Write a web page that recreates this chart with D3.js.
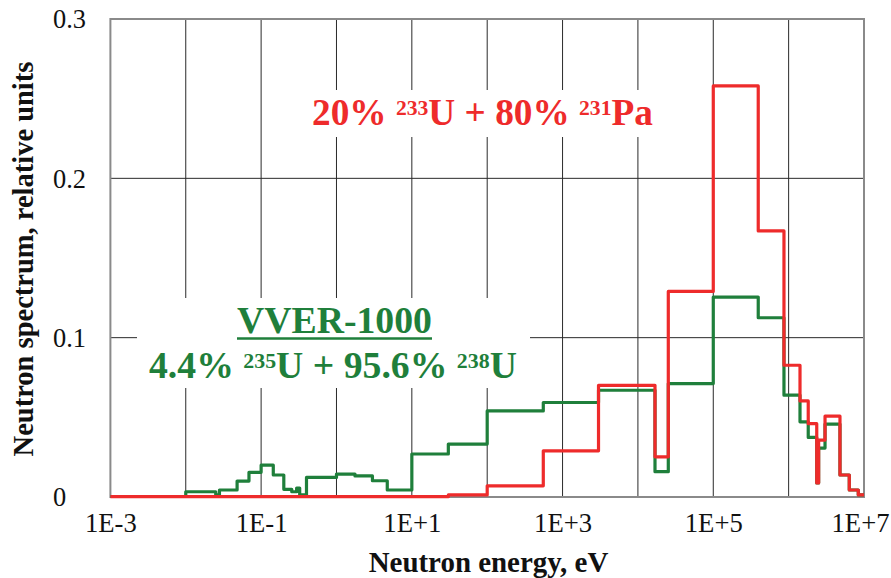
<!DOCTYPE html>
<html><head><meta charset="utf-8">
<script src="https://cdn.jsdelivr.net/npm/d3@7"></script>
<style>
html,body{margin:0;padding:0;background:#fff;}
svg{display:block;}
</style>
</head><body>
<svg id="chart" width="891" height="578"></svg>
<script>
// ---- data ----
const xTickValues = [1e-3, 1e-1, 1e1, 1e3, 1e5, 1e7];
const xTickLabels = ["1E-3", "1E-1", "1E+1", "1E+3", "1E+5", "1E+7"];
const xGridValues = [1e-2, 1e-1, 1, 1e1, 1e2, 1e3, 1e4, 1e5, 1e6];
const yTickValues = [0, 0.1, 0.2, 0.3];
const yTickLabels = ["0", "0.1", "0.2", "0.3"];

// VVER-1000 (green) group lower edges (eV) and group values
const vverEdges = [1e-3, 0.01, 0.025, 0.028, 0.048, 0.069, 0.1, 0.145, 0.2, 0.255, 0.296, 0.325, 0.4, 1.0, 1.76, 3.0, 4.72, 10, 30.5, 100, 555, 3000, 16850, 25300, 1e5, 3.95e5, 8.67e5, 1.415e6, 1.82e6, 2.36e6, 2.5e6, 3.04e6, 4.8e6, 6.38e6, 8.4e6, 1e7];
const vverValues = [0.0003, 0.0033, 0.0013, 0.0044, 0.010, 0.0155, 0.020, 0.0138, 0.0048, 0.0033, 0.0056, 0.0013, 0.0123, 0.0144, 0.0132, 0.0102, 0.0044, 0.027, 0.0332, 0.054, 0.0593, 0.067, 0.0159, 0.0712, 0.1255, 0.1125, 0.0639, 0.0472, 0.0374, 0.0088, 0.0307, 0.0457, 0.0138, 0.0044, 0.0013];

// 20% U-233 + 80% Pa-231 (red)
const paEdges = [1e-3, 30.5, 100, 555, 3000, 16850, 25300, 1e5, 3.95e5, 8.67e5, 1.415e6, 1.82e6, 2.36e6, 2.5e6, 3.04e6, 4.8e6, 6.38e6, 8.4e6, 1e7];
const paValues = [0.0002, 0.0013, 0.007, 0.029, 0.0701, 0.0252, 0.129, 0.258, 0.167, 0.0827, 0.0603, 0.046, 0.0088, 0.0357, 0.0507, 0.0138, 0.0044, 0.0013];

const RED = "#ee2b2b", GREEN = "#1f7f3b";
const FONT = "'Liberation Serif','DejaVu Serif','Times New Roman',serif";

// ---- layout ----
const svg = d3.select("#chart");
const L = 110.4, R = 864, T = 19, B = 497;
const x = d3.scaleLog().domain([1e-3, 1e7]).range([L, R]);
const y = d3.scaleLinear().domain([0, 0.3]).range([B, T]);

function fitSize(sel, base, target) {
  const w = sel.node().getBBox().width;
  return w > 0 ? base * target / w : base;
}

// grid
svg.append("g").selectAll("line.v").data(xGridValues).join("line")
  .attr("x1", d => x(d)).attr("x2", d => x(d)).attr("y1", T).attr("y2", B)
  .attr("stroke", "#2a2a2a").attr("stroke-width", 1);
svg.append("g").selectAll("line.h").data([0.1, 0.2]).join("line")
  .attr("x1", L).attr("x2", R).attr("y1", d => y(d)).attr("y2", d => y(d))
  .attr("stroke", "#2a2a2a").attr("stroke-width", 1);

// frame
svg.append("rect").attr("x", L).attr("y", T).attr("width", R - L).attr("height", B - T)
  .attr("fill", "none").attr("stroke", "#8a8a8a").attr("stroke-width", 2);

// annotation backgrounds
svg.append("rect").attr("x", 300).attr("y", 90).attr("width", 365).attr("height", 47).attr("fill", "#fff");
svg.append("rect").attr("x", 137).attr("y", 298).attr("width", 393).attr("height", 90).attr("fill", "#fff");

// axes
const xAxis = svg.append("g").attr("transform", `translate(0,${B})`)
  .call(d3.axisBottom(x).tickValues(xTickValues).tickFormat((d, i) => xTickLabels[i]).tickSize(0).tickPadding(0));
xAxis.select(".domain").remove();
const xt = xAxis.selectAll("text").attr("y", 35).attr("dy", 0)
  .attr("font-family", FONT).attr("font-size", 26).attr("fill", "#111");
const xs = fitSize(xAxis.selectAll("text").filter((d, i) => i === 2), 26, 58);
xt.attr("font-size", xs);
// keep the last label inside the canvas
xAxis.selectAll("text").filter((d, i, n) => i === n.length - 1).attr("x", -4);

const yAxis = svg.append("g")
  .call(d3.axisLeft(y).tickValues(yTickValues).tickFormat((d, i) => yTickLabels[i]).tickSize(0));
yAxis.select(".domain").remove();
const yt = yAxis.selectAll("text").attr("x", 53).attr("dy", "0.33em").attr("text-anchor", "start")
  .attr("font-family", FONT).attr("font-size", 26).attr("fill", "#111");
const ys = fitSize(yAxis.selectAll("text").filter((d, i) => i === 2), 26, 33);
yt.attr("font-size", ys);

// step lines
function stepPts(edges, vals) {
  const pts = vals.map((v, i) => [edges[i], v]);
  pts.push([edges[edges.length - 1], vals[vals.length - 1]]);
  return pts;
}
const line = d3.line().x(d => x(d[0])).y(d => y(d[1])).curve(d3.curveStepAfter);
svg.append("path").attr("d", line(stepPts(vverEdges, vverValues)))
  .attr("fill", "none").attr("stroke", GREEN).attr("stroke-width", 3.2).attr("stroke-linejoin", "round");
svg.append("path").attr("d", line(stepPts(paEdges, paValues)))
  .attr("fill", "none").attr("stroke", RED).attr("stroke-width", 3.2).attr("stroke-linejoin", "round");

// labels with superscripts
function richText(parts, xPos, yPos, color, size, target) {
  const t = svg.append("text").attr("x", xPos).attr("y", yPos)
    .attr("font-family", FONT).attr("font-weight", "bold").attr("fill", color)
    .style("white-space", "pre");
  const spans = parts.map(p => t.append("tspan").text(p.t).datum(p));
  function apply(s) {
    t.attr("font-size", s);
    let raised = false;
    spans.forEach(sp => {
      const p = sp.datum();
      sp.attr("dy", null);
      if (p.sup) {
        sp.attr("font-size", s * 0.58);
        if (!raised) { sp.attr("dy", -s * 0.27); raised = true; }
      } else {
        sp.attr("font-size", s);
        if (raised) { sp.attr("dy", s * 0.27); raised = false; }
      }
    });
  }
  apply(size);
  const s2 = fitSize(t, size, target);
  apply(s2);
  return t;
}
richText([{t: "20% "}, {t: "233", sup: true}, {t: "U + 80% "}, {t: "231", sup: true}, {t: "Pa"}], 312, 125, RED, 38, 341);

const vv = svg.append("text").attr("x", 334.5).attr("y", 333).attr("text-anchor", "middle")
  .attr("font-family", FONT).attr("font-weight", "bold")
  .attr("font-size", 38).attr("fill", GREEN).text("VVER-1000");
vv.attr("font-size", fitSize(vv, 38, 195));
svg.append("line").attr("x1", 237).attr("x2", 432).attr("y1", 338.5).attr("y2", 338.5)
  .attr("stroke", GREEN).attr("stroke-width", 2.6);
richText([{t: "4.4% "}, {t: "235", sup: true}, {t: "U + 95.6% "}, {t: "238", sup: true}, {t: "U"}], 149, 378, GREEN, 38, 368);

// axis titles
const xTitle = svg.append("text").attr("x", 488.5).attr("y", 572).attr("text-anchor", "middle")
  .attr("font-family", FONT).attr("font-weight", "bold")
  .attr("font-size", 26).attr("fill", "#111")
  .text("Neutron energy, eV");
xTitle.attr("font-size", fitSize(xTitle, 26, 240));
const yTitle = svg.append("text").attr("transform", "translate(33,259) rotate(-90)").attr("text-anchor", "middle")
  .attr("font-family", FONT).attr("font-weight", "bold")
  .attr("font-size", 27).attr("fill", "#111")
  .text("Neutron spectrum, relative units");
yTitle.attr("font-size", fitSize(yTitle, 27, 395));
</script>
</body></html>
